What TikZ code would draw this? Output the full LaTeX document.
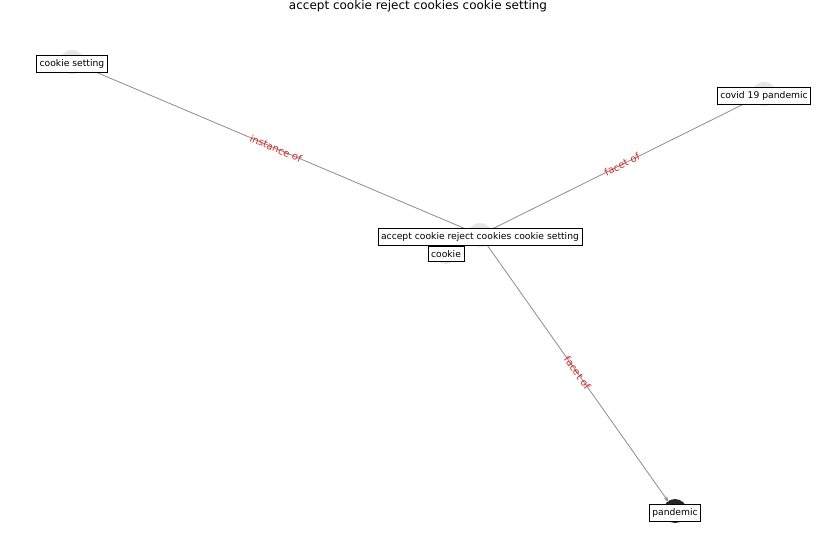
\documentclass[tikz,border=0pt]{standalone}
\usepackage{fontspec}
\setmainfont{DejaVu Sans}
\usetikzlibrary{arrows.meta}
\definecolor{dotgray}{HTML}{E6E6E6}
\definecolor{edgegray}{HTML}{8C8C8C}
\definecolor{lblred}{HTML}{D62728}
\tikzset{
  dot/.style={circle, fill=dotgray, draw=none, minimum size=24pt, inner sep=0pt},
  darkdot/.style={circle, fill=black!85, draw=none, minimum size=24pt, inner sep=0pt},
  lbl/.style={draw=black, fill=white, line width=0.7pt, inner xsep=3pt, inner ysep=3.8pt, font=\fontsize{9.2}{11}\selectfont},
  edge/.style={draw=edgegray, line width=0.8pt},
  elbl/.style={text=lblred, font=\fontsize{10}{12}\selectfont, sloped, inner sep=0pt, fill=none}
}
\begin{document}
\begin{tikzpicture}[x=1pt,y=-1pt]
\useasboundingbox (0,0) rectangle (837,559);
\node (title) at (418,6) {\fontsize{12}{14}\selectfont accept cookie reject cookies cookie setting};
% dots
\node[dot] (m) at (480,235) {};
\node[dot] (ck) at (446,252) {};
\node[dot] (cs) at (72,62) {};
\node[dot] (cv) at (764,94) {};
\node[darkdot] (pd) at (675,511) {};
% edges
\draw[edge] (m.center) -- node[elbl] {instance of} (cs.center);
\draw[edge] (m.center) -- node[elbl] {facet of} (cv.center);
\draw[edge, -{Stealth[length=6pt,width=4pt]}, shorten >=11pt] (m.center) -- node[elbl] {facet of} (pd.center);
% redraw dots on top of edges
\node[dot] at (m) {};
\node[dot] at (cs) {};
\node[dot] at (cv) {};
% labels
\node[lbl] (ml) at (480,237) {accept cookie reject cookies cookie setting};
\node[lbl] (ckl) at (446,254) {cookie};
\node[lbl] (csl) at (72,64) {cookie setting};
\node[lbl] (cvl) at (764,96) {covid 19 pandemic};
\node[lbl] (pdl) at (675,513) {pandemic};
\end{tikzpicture}
\end{document}
